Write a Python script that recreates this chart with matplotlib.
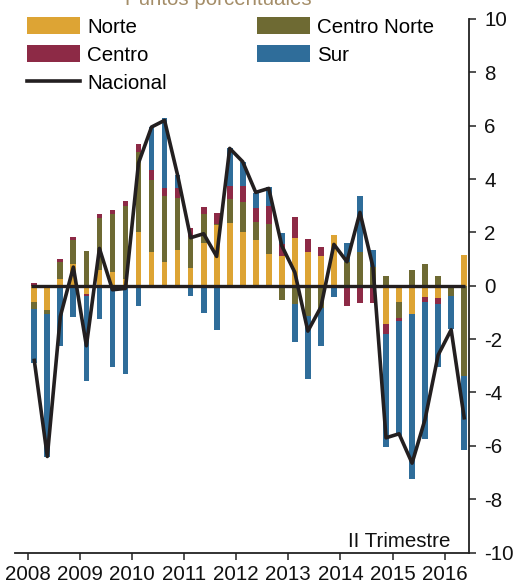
import matplotlib
matplotlib.use('Agg')
import matplotlib.pyplot as plt
import numpy as np

plt.rcParams['font.family'] = ['Liberation Sans', 'DejaVu Sans']
plt.rcParams['axes.unicode_minus'] = False

# Contribucion regional, 2008 I - 2016 II (puntos porcentuales)
years = ['2008', '2009', '2010', '2011', '2012', '2013', '2014', '2015', '2016']

norte = [-0.62, -0.91, 0.27, 0.81, -0.30, 0.59, 0.50, 0.27, 2.00, 1.27, 0.90, 1.34,
         0.68, 1.59, 2.27, 2.34, 2.02, 1.71, 1.19, 1.12, 1.80, 1.27, 1.12, 1.92,
         0.00, 0.00, 0.00, -1.44, -0.62, -1.06, -0.41, -0.47, 0.00, 1.17]
centro_norte = [-0.25, -0.15, 0.62, 0.90, 1.31, 1.94, 2.19, 2.71, 3.03, 2.69, 2.46, 1.96,
                1.16, 1.10, 0.06, 0.90, 1.12, 0.69, 1.12, -0.54, -0.69, -1.14, -0.85, 0.00,
                0.90, 1.27, 0.70, 0.36, -0.60, 0.59, 0.81, 0.36, -0.39, -3.39]
centro = [0.12, 0.00, 0.12, 0.12, -0.08, 0.15, 0.15, 0.20, 0.27, 0.37, 0.31, 0.37,
          0.31, 0.27, 0.40, 0.50, 0.59, 0.52, 0.67, 0.44, 0.79, 0.50, 0.34, 0.00,
          -0.76, -0.66, -0.65, -0.37, -0.09, 0.00, -0.21, -0.21, 0.00, 0.00]
sur = [-2.04, -5.37, -2.25, -1.19, -3.20, -1.26, -3.06, -3.29, -0.75, 1.62, 2.60, 0.50,
       -0.37, -1.04, -1.66, 1.41, 0.91, 0.56, 0.72, 0.42, -1.41, -2.37, -1.40, -0.44,
       0.72, 2.09, 0.65, -4.25, -4.32, -6.20, -5.14, -2.37, -1.25, -2.75]
nacional = [-2.80, -6.40, -1.15, 0.70, -2.25, 1.40, -0.15, -0.10, 4.60, 5.95, 6.20, 4.15,
            1.80, 1.95, 1.10, 5.15, 4.65, 3.50, 3.65, 1.50, 0.50, -1.70, -0.80, 1.55,
            0.90, 2.75, 0.70, -5.70, -5.55, -6.65, -5.00, -2.60, -1.65, -4.95]

series = [('Norte', norte, '#DDA434'),
          ('Centro Norte', centro_norte, '#6E6A33'),
          ('Centro', centro, '#8D2A46'),
          ('Sur', sur, '#2F6D9A')]

x = np.arange(len(nacional))
fs = 14.8

fig = plt.figure(figsize=(5.27, 5.87), dpi=100)
ax = fig.add_axes([15 / 527, 1 - 552.5 / 587, (469 - 15) / 527, (552.5 - 19) / 587])

# stacked bars, positives up and negatives down
pos_bot = np.zeros(len(x))
neg_bot = np.zeros(len(x))
handles = {}
for name, vals, col in series:
    v = np.array(vals)
    bottom = np.where(v >= 0, pos_bot, neg_bot)
    handles[name] = ax.bar(x, v, width=0.44, bottom=bottom, color=col, label=name, zorder=2)
    pos_bot += np.where(v >= 0, v, 0)
    neg_bot += np.where(v < 0, v, 0)

ax.hlines(0, -0.25, len(x) - 0.9, color='#231F20', lw=2.4, zorder=3)
line, = ax.plot(x, nacional, color='#231F20', lw=2.6, label='Nacional', zorder=4)

ax.set_xlim(-1.48, len(x) - 1 + 0.37)
ax.set_ylim(-10, 10)
ax.set_yticks(np.arange(-10, 11, 2))
ax.yaxis.tick_right()
ax.set_xticks(np.arange(len(years)) * 4 - 0.5)
ax.set_xticklabels(years)

for s in ['left', 'top']:
    ax.spines[s].set_visible(False)
for s in ['right', 'bottom']:
    ax.spines[s].set_linewidth(1.3)
    ax.spines[s].set_color('#222222')
ax.tick_params(axis='both', direction='out', length=5, width=1.1, color='#222222',
               labelsize=fs, labelcolor='#111111')
ax.tick_params(axis='y', pad=6)
ax.tick_params(axis='x', pad=4)

leg = ax.legend([handles['Norte'], handles['Centro'], line, handles['Centro Norte'], handles['Sur']],
                ['Norte', 'Centro', 'Nacional', 'Centro Norte', 'Sur'],
                ncol=2, loc='upper left', bbox_to_anchor=(27 / 527, 1 - 17 / 587),
                bbox_transform=fig.transFigure, frameon=False, fontsize=fs,
                borderpad=0, borderaxespad=0, handlelength=2.57, handleheight=0.9,
                handletextpad=0.35, columnspacing=4.4, labelspacing=0.42)

fig.text(218 / 527, 1 - 5 / 587, 'Puntos porcentuales', ha='center', va='baseline',
         fontsize=fs, color='#A48D68')
fig.text(450 / 527, 1 - 547 / 587, 'II Trimestre', ha='right', va='baseline',
         fontsize=fs, color='#111111')

fig.savefig('out.png', dpi=100)
